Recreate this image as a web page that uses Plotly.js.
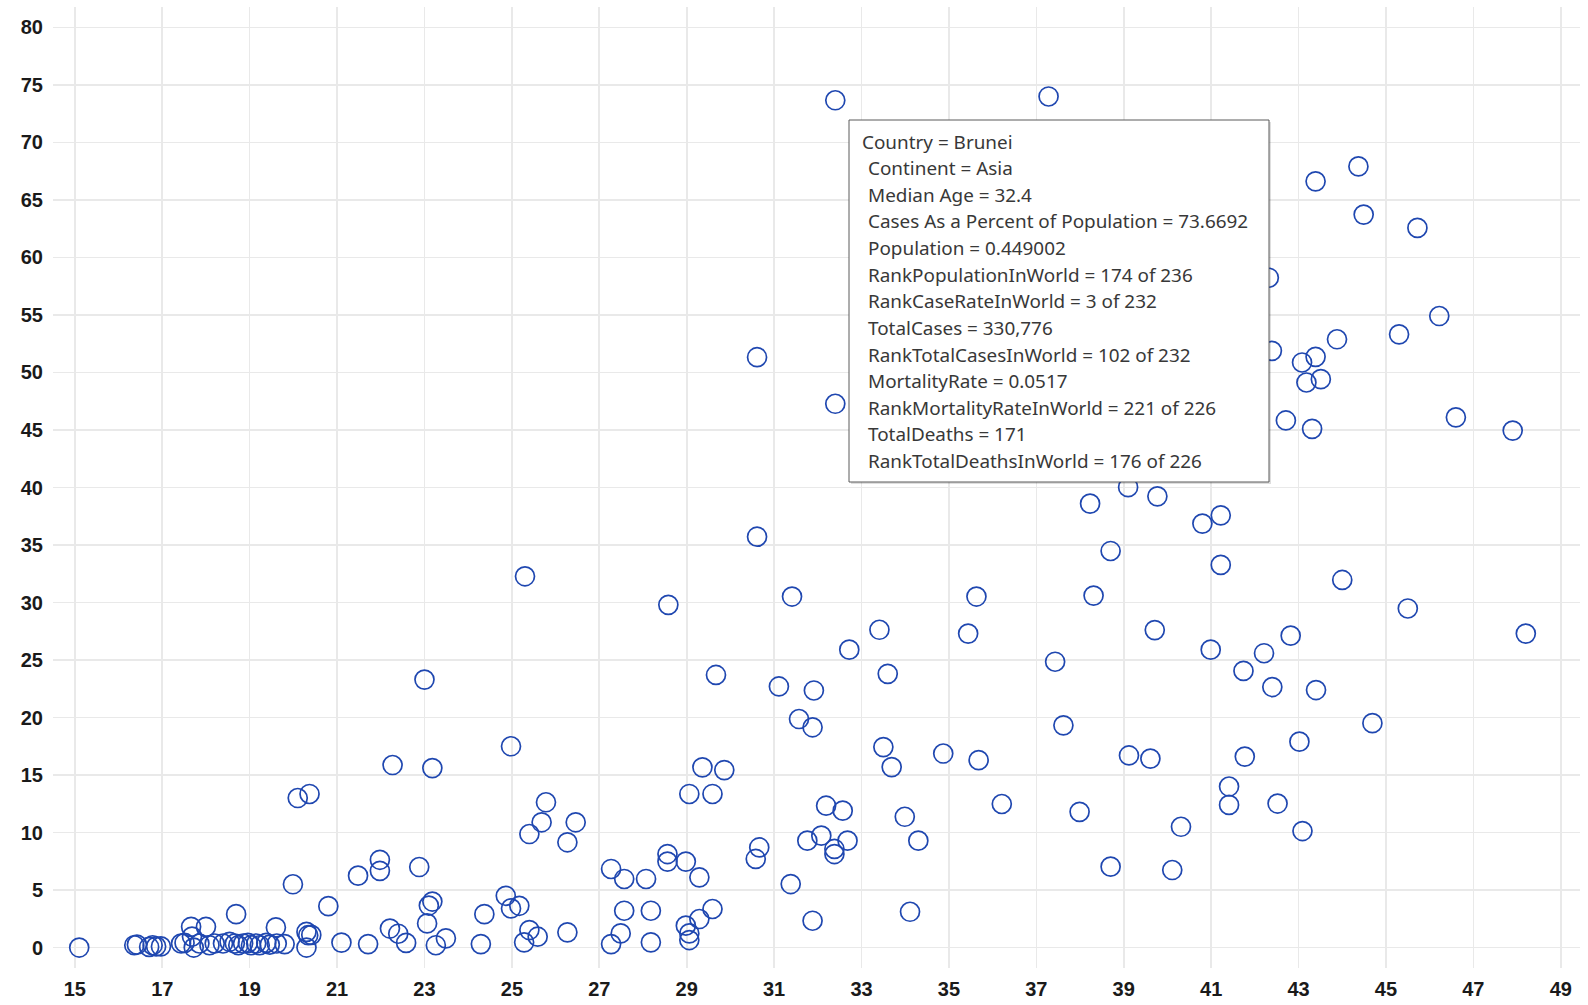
<!DOCTYPE html>
<html><head><meta charset="utf-8">
<script src="https://cdn.plot.ly/plotly-3.0.1.min.js"></script>
<style>html,body{margin:0;padding:0;background:#fff;} #chart{width:1588px;height:1005px;}</style>
</head><body><div id="chart"></div>
<script>
// Median age (x) for each country
const medianAge = [
 15.1,16.36,16.42,16.7,16.78,16.86,16.97,17.43,17.51,17.66,17.68,17.72,18.0,17.85,18.08,18.2,18.39,18.54,18.69,18.66,
 18.74,18.85,18.96,19.03,19.15,19.23,19.38,19.46,19.6,19.62,19.8,19.99,20.1,20.37,20.3,20.34,20.41,20.3,20.8,21.1,
 21.71,21.48,21.98,21.98,22.21,22.4,22.58,22.27,23.18,22.88,23.06,23.18,23.1,23.26,23.49,23.0,
 24.29,24.37,24.86,24.98,25.17,24.98,25.3,25.4,25.59,25.28,25.78,25.68,25.4,26.46,26.27,26.27,27.27,27.57,28.07,27.57,
 28.18,27.49,27.27,28.18,28.56,28.56,28.98,29.29,29.59,29.29,28.98,29.06,29.06,29.06,29.59,29.36,29.86,29.67,28.58,
 30.61,30.61,32.4,32.4,31.41,35.63,33.41,35.44,32.72,31.11,31.91,33.6,31.57,31.88,30.66,30.58,31.38,31.88,32.19,32.57,
 31.76,32.08,32.68,32.38,32.38,33.5,33.69,34.87,35.68,33.99,34.3,34.11,36.21,
 37.28,44.37,43.39,44.49,45.72,42.32,46.22,45.3,43.88,42.39,43.08,43.39,43.18,43.51,42.71,43.31,46.6,47.9,39.1,39.77,
 38.23,40.8,41.22,38.7,41.22,44.0,38.31,45.5,39.71,48.2,42.82,40.99,42.21,37.43,41.74,42.4,43.4,37.62,44.69,43.02,
 39.12,39.61,41.77,41.41,41.41,42.52,37.99,40.31,43.09,38.7,40.11
];
// Cases as a percent of population (y)
const casePercent = [
 0.0,0.2,0.25,0.05,0.2,0.1,0.1,0.35,0.4,1.8,0.95,0.0,1.8,0.35,0.2,0.35,0.35,0.5,2.9,0.35,
 0.2,0.35,0.4,0.2,0.35,0.2,0.4,0.25,1.75,0.35,0.3,5.5,13.0,13.35,1.36,1.07,1.1,0.0,3.6,0.43,
 0.3,6.25,7.63,6.67,1.65,1.2,0.4,15.87,15.6,7.0,2.1,4.0,3.65,0.2,0.8,23.3,
 0.3,2.9,4.5,3.4,3.63,17.5,32.28,1.52,0.94,0.45,12.63,10.89,9.87,10.89,9.15,1.32,6.83,5.96,5.96,3.2,
 3.2,1.23,0.3,0.45,8.13,7.47,7.47,6.1,3.35,2.48,1.9,1.23,0.65,13.35,13.35,15.67,15.43,23.7,29.8,
 51.33,35.72,73.67,47.28,30.52,30.52,27.63,27.3,25.9,22.7,22.35,23.8,19.87,19.15,8.7,7.7,5.52,2.33,12.33,11.9,
 9.29,9.73,9.29,8.57,8.13,17.43,15.69,16.87,16.3,11.37,9.29,3.11,12.48,
 74.0,67.92,66.62,63.73,62.57,58.24,54.91,53.32,52.89,51.88,50.87,51.36,49.13,49.42,45.83,45.1,46.1,44.95,40.03,39.23,
 38.6,36.86,37.58,34.48,33.27,31.96,30.6,29.48,27.6,27.3,27.12,25.9,25.59,24.85,24.05,22.65,22.39,19.32,19.51,17.9,
 16.7,16.43,16.6,14.0,12.4,12.52,11.8,10.5,10.13,7.03,6.74
];
// Hover tooltip shown for Brunei
const tooltipLines = [
 "Country = Brunei",
 "Continent = Asia",
 "Median Age = 32.4",
 "Cases As a Percent of Population = 73.6692",
 "Population = 0.449002",
 "RankPopulationInWorld = 174 of 236",
 "RankCaseRateInWorld = 3 of 232",
 "TotalCases = 330,776",
 "RankTotalCasesInWorld = 102 of 232",
 "MortalityRate = 0.0517",
 "RankMortalityRateInWorld = 221 of 226",
 "TotalDeaths = 171",
 "RankTotalDeathsInWorld = 176 of 226"
];

const W = 1588, H = 1005;
const M = {l: 53, r: 8, t: 7, b: 37};
const pw = W - M.l - M.r, ph = H - M.t - M.b;
const px2x = p => (p - M.l) / pw;
const px2y = p => 1 - (p - M.t) / ph;

const shapes = [
  {type: 'rect', xref: 'paper', yref: 'paper', layer: 'above',
   x0: px2x(851), x1: px2x(1271), y0: px2y(484), y1: px2y(122),
   fillcolor: 'rgba(0,0,0,0.13)', line: {width: 0}},
  {type: 'rect', xref: 'paper', yref: 'paper', layer: 'above',
   x0: px2x(849), x1: px2x(1269), y0: px2y(482), y1: px2y(120),
   fillcolor: '#ffffff', line: {color: '#5a5a5a', width: 1}}
];
const annotations = tooltipLines.map((t, i) => ({
  xref: 'paper', yref: 'paper', showarrow: false,
  x: px2x(i === 0 ? 860 : 866), y: px2y(141.7 + 26.6 * i),
  xanchor: 'left', yanchor: 'middle', text: t,
  font: {family: 'Noto Sans, Open Sans, sans-serif', size: 18.9, color: '#383838'}
}));

const trace = {
  type: 'scatter', mode: 'markers',
  x: medianAge, y: casePercent,
  marker: {symbol: 'circle-open', size: 19, color: '#1f47b0', line: {width: 1.7, color: '#1f47b0'}},
  hoverinfo: 'skip'
};

const tickFont = {family: 'Liberation Sans, Arial, sans-serif', size: 20, weight: 'bold', color: '#1a1a1a'};
const layout = {
  width: W, height: H, margin: M,
  paper_bgcolor: '#ffffff', plot_bgcolor: '#ffffff',
  showlegend: false,
  xaxis: {range: [14.5, 49.44], tick0: 15, dtick: 2, showgrid: true, gridcolor: '#e9e9e9', gridwidth: 1.6,
          zeroline: false, showline: false, ticks: '', tickfont: tickFont, ticklabelstandoff: 7},
  yaxis: {range: [-1.78, 81.78], tick0: 0, dtick: 5, showgrid: true, gridcolor: '#e9e9e9', gridwidth: 1.6,
          zeroline: false, showline: false, ticks: '', tickfont: tickFont, ticklabelstandoff: 9},
  shapes: shapes, annotations: annotations
};
Plotly.newPlot('chart', [trace], layout, {displayModeBar: false, staticPlot: true});
</script></body></html>
